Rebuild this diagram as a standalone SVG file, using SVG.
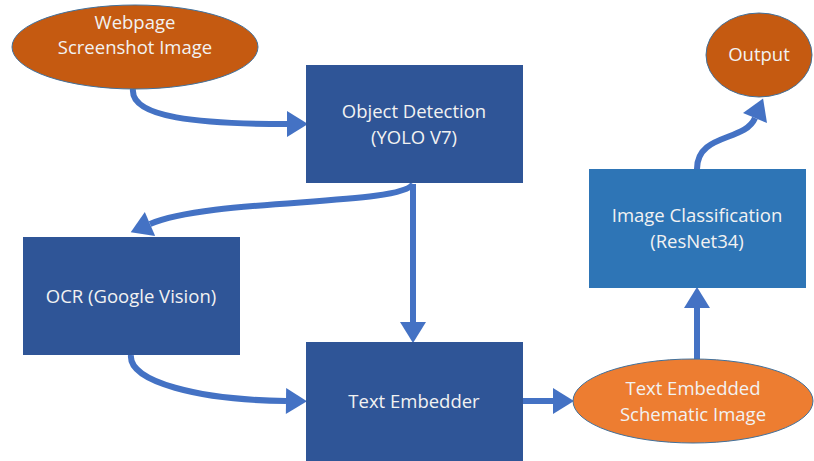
<svg xmlns="http://www.w3.org/2000/svg" width="814" height="461" viewBox="0 0 814 461">
<defs>
<marker id="ah" markerUnits="userSpaceOnUse" markerWidth="22" markerHeight="26" refX="0" refY="13" orient="auto" overflow="visible">
<path d="M0,0 L21,13 L0,26 z" fill="#4472C4"/>
</marker>
<style>
.t{font-family:"Open Sans","Liberation Sans",sans-serif;font-size:18.5px;fill:#F2F2F2;text-anchor:middle}
.c{fill:none;stroke:#4472C4;stroke-width:6;marker-end:url(#ah)}
.box{fill:#2F5597}
.ell{stroke:#41719C;stroke-width:1}
</style>
</defs>
<rect width="814" height="461" fill="#FFFFFF"/>
<g id="connectors">
<path class="c" d="M133,89 C130,118 200,124 287,124"/>
<path class="c" d="M413,184 C400,206 210,198 150,224"/>
<path class="c" d="M413,184 L413,322"/>
<path class="c" d="M131,355 C128,382 200,400 286,401"/>
<path class="c" d="M523,401 L553,401"/>
<path class="c" d="M697,359 L697,308"/>
<path class="c" d="M697,169 C697,133 745,142 755,118"/>
</g>
<g id="webpage">
<ellipse class="ell" cx="135" cy="47" rx="123" ry="42" fill="#C55A11"/>
<text class="t" x="135" y="29">Webpage</text>
<text class="t" x="135" y="54">Screenshot Image</text>
</g>
<g id="object-detection">
<rect class="box" x="306" y="65" width="217" height="118"/>
<text class="t" x="414" y="118">Object Detection</text>
<text class="t" x="414" y="144">(YOLO V7)</text>
</g>
<g id="ocr">
<rect class="box" x="23" y="237" width="217" height="118"/>
<text class="t" x="131" y="303">OCR (Google Vision)</text>
</g>
<g id="text-embedder">
<rect class="box" x="306" y="342" width="217" height="119"/>
<text class="t" x="414" y="408">Text Embedder</text>
</g>
<g id="text-embedded">
<ellipse class="ell" cx="693" cy="401" rx="120" ry="42" fill="#ED7D31"/>
<text class="t" x="693" y="395">Text Embedded</text>
<text class="t" x="693" y="421">Schematic Image</text>
</g>
<g id="image-classification">
<rect x="589" y="169" width="217" height="119" fill="#2E75B6"/>
<text class="t" x="697" y="222">Image Classification</text>
<text class="t" x="697" y="248">(ResNet34)</text>
</g>
<g id="output">
<ellipse class="ell" cx="759" cy="55" rx="53" ry="42" fill="#C55A11"/>
<text class="t" x="759" y="61">Output</text>
</g>
</svg>
